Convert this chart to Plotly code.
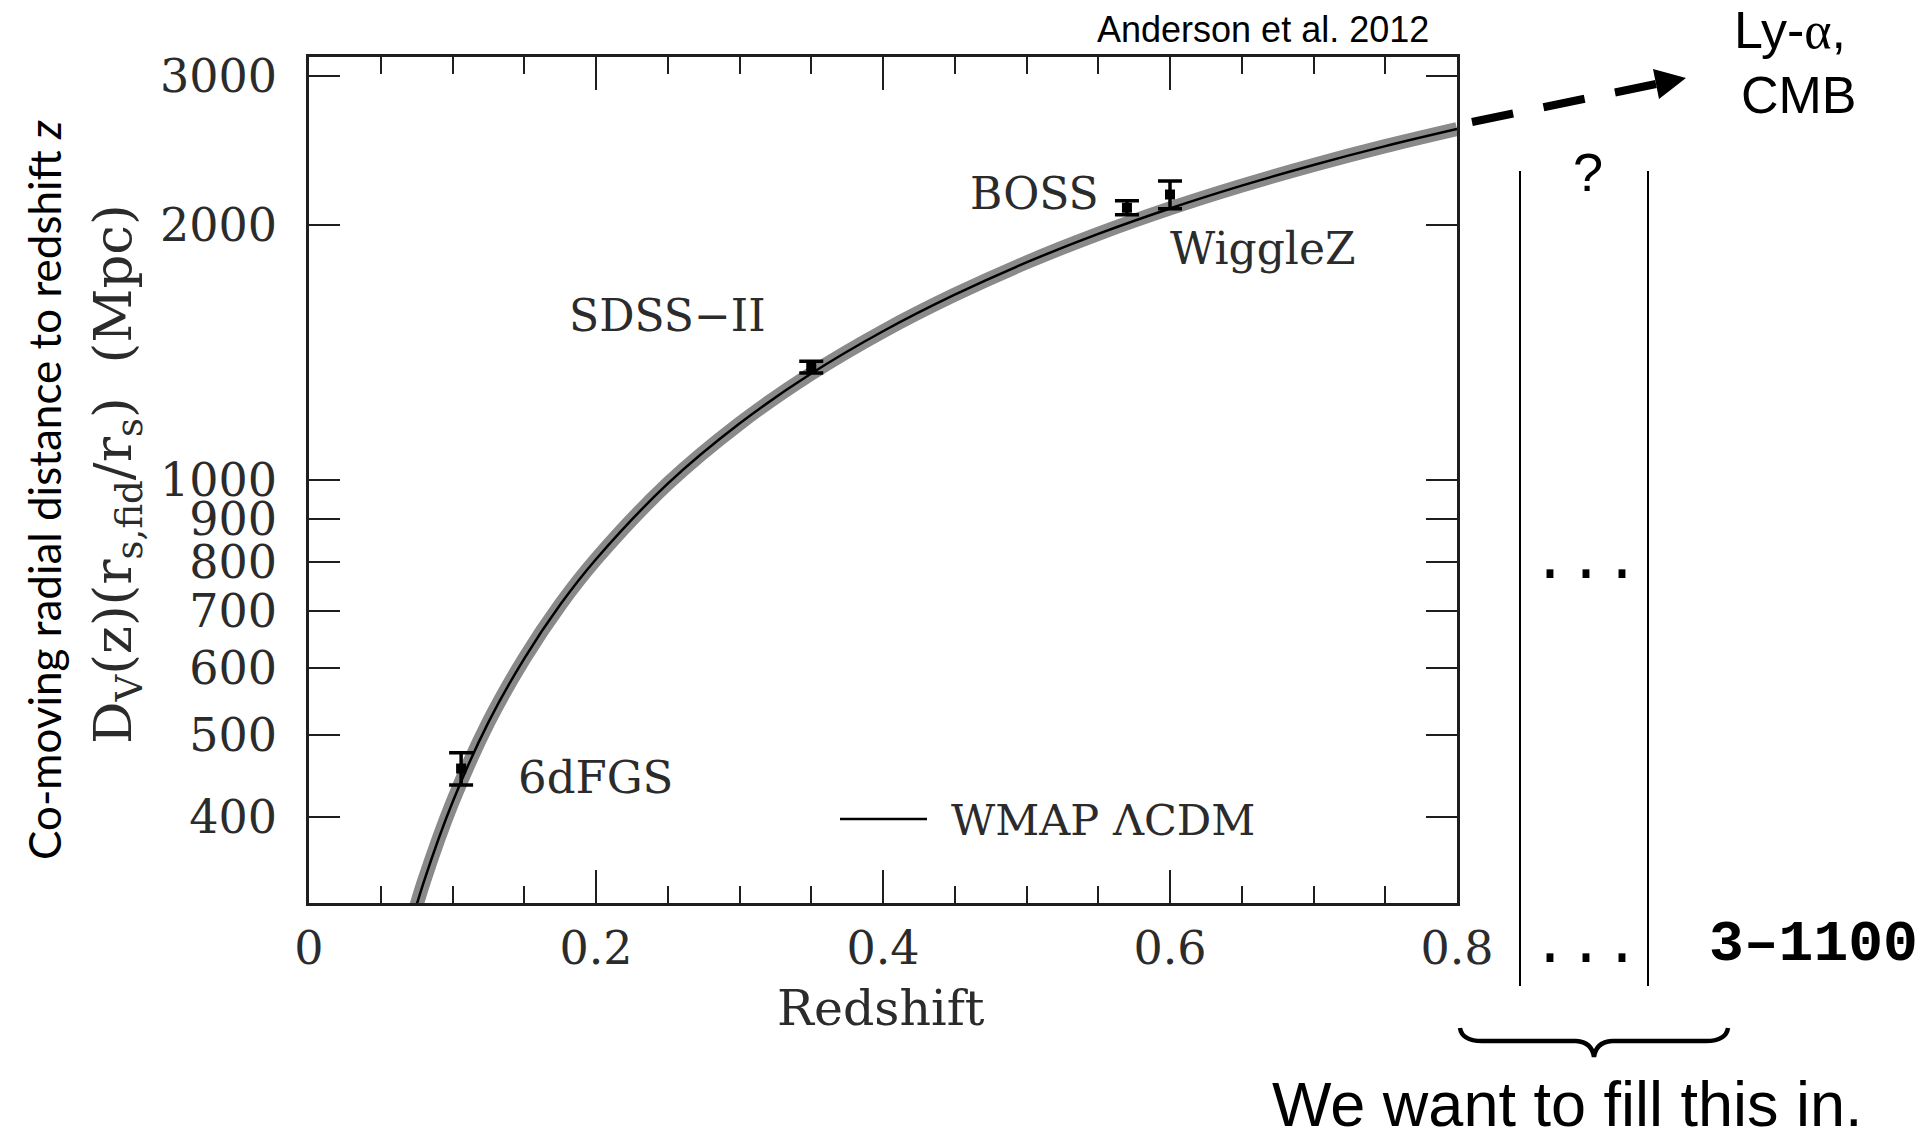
import plotly.graph_objects as go

W, H = 1920, 1137

# ---------------- data ----------------
curve_z = [0.070, 0.080, 0.100, 0.125, 0.150, 0.175, 0.200, 0.250, 0.300, 0.350,
           0.400, 0.450, 0.500, 0.550, 0.600, 0.650, 0.700, 0.750, 0.800]
curve_dv = [294, 335, 416, 517, 615, 712, 806, 990, 1166, 1336,
            1499, 1656, 1808, 1954, 2094, 2228, 2357, 2481, 2599]

survey_names = ["6dFGS", "SDSS\u2212II", "BOSS", "WiggleZ"]
survey_z = [0.106, 0.35, 0.57, 0.60]
survey_dv = [456, 1360, 2098, 2175]
survey_err = [20, 22, 40, 82]

x_tickvals = [0, 0.2, 0.4, 0.6, 0.8]
x_ticktext = ["0", "0.2", "0.4", "0.6", "0.8"]
x_minor = [0.05, 0.1, 0.15, 0.25, 0.3, 0.35, 0.45, 0.5, 0.55, 0.65, 0.7, 0.75]
y_tickvals = [400, 500, 600, 700, 800, 900, 1000, 2000, 3000]
y_ticktext = ["400", "500", "600", "700", "800", "900", "1000", "2000", "3000"]


# ---------------- helpers: pixel -> paper ----------------
def fx(px):
    return px / W


def fy(py):
    return 1 - py / H


SERIF = "DejaVu Serif"
TXT = "#2b2b2b"
AX = "#1e1e1e"
FS = 46

fig = go.Figure()

# WMAP LCDM prediction: gray band + black centre line
fig.add_trace(go.Scatter(x=curve_z, y=curve_dv, mode="lines",
                         line=dict(color="#8a8a8a", width=14, shape="spline", smoothing=1),
                         hoverinfo="skip", showlegend=False))
fig.add_trace(go.Scatter(x=curve_z, y=curve_dv, mode="lines",
                         line=dict(color="#000000", width=2.5, shape="spline", smoothing=1),
                         name="WMAP \u039bCDM", showlegend=False))

# BAO measurements
fig.add_trace(go.Scatter(x=survey_z, y=survey_dv, mode="markers",
                         marker=dict(symbol="square", size=10, color="black"),
                         error_y=dict(type="data", array=survey_err, color="black",
                                      thickness=3.5, width=12),
                         text=survey_names, showlegend=False))

axis_common = dict(showgrid=False, zeroline=False, showline=True, linecolor=AX,
                   linewidth=2.5, mirror="ticks", ticks="inside", tickcolor=AX,
                   tickwidth=2, tickfont=dict(family=SERIF, size=FS, color=TXT))

fig.update_layout(
    width=W, height=H,
    margin=dict(l=0, r=0, t=0, b=0, autoexpand=False),
    paper_bgcolor="white", plot_bgcolor="white",
    xaxis=dict(domain=[fx(309), fx(1457)], range=[0, 0.8], automargin=False,
               tickmode="array", tickvals=x_tickvals, ticktext=x_ticktext,
               ticklen=33, ticklabelstandoff=3,
               minor=dict(tickvals=x_minor, ticks="inside", ticklen=17,
                          tickwidth=2, tickcolor=AX, showgrid=False),
               **axis_common),
    yaxis=dict(domain=[fy(903), fy(57)], type="log", range=[2.5, 3.5], automargin=False,
               tickmode="array", tickvals=y_tickvals, ticktext=y_ticktext,
               ticklen=31, ticklabelstandoff=20,
               **axis_common),
    showlegend=False,
)

ann = []


def text(s, x, y, size, family, color="black", angle=0, xanchor="center"):
    ann.append(dict(text=s, x=fx(x), y=fy(y), xref="paper", yref="paper",
                    showarrow=False, xanchor=xanchor, yanchor="middle",
                    textangle=angle,
                    font=dict(family=family, size=size, color=color)))


# in-plot labels
text("SDSS\u2212II", 667, 315, 44, SERIF, TXT)
text("6dFGS", 595, 777, 45, SERIF, TXT)
text("BOSS", 1034, 193, 44, SERIF, TXT)
text("WiggleZ", 1263, 249, 44, SERIF, TXT)
text("WMAP \u039bCDM", 1103, 820, 43, SERIF, TXT)

# axis titles
text("Redshift", 881, 1008, 49, SERIF, TXT)
text("D<sub>V</sub>(z)(r<sub>s,fid</sub>/r<sub>s</sub>)  (Mpc)", 116, 474, 53, SERIF, TXT, angle=-90)
text("Co-moving radial distance to redshift <i>z</i>", 44, 490, 44, "Lato", "black", angle=-90)

# slide annotations
text("Anderson et al. 2012", 1263, 29, 36, "Liberation Sans")
text("Ly-<span style=\"font-family:'Liberation Serif'\">\u03b1</span>,", 1790, 30, 52, "Liberation Sans")
text("CMB", 1799, 95, 52, "Liberation Sans")
text("?", 1588, 172, 54, "Liberation Sans")
text("...", 1586, 562, 60, "Liberation Mono")
text("...", 1586, 946, 60, "Liberation Mono")
text("<b>3\u20131100</b>", 1813, 944, 58, "Liberation Mono")
text("We want to fill this in.", 1567, 1104, 63, "Liberation Sans")

fig.update_layout(annotations=ann)

shapes = []
# legend sample line
shapes.append(dict(type="line", xref="paper", yref="paper",
                   x0=fx(840), y0=fy(819), x1=fx(927), y1=fy(819),
                   line=dict(color="black", width=2.5)))
# dashed arrow
shapes.append(dict(type="line", xref="paper", yref="paper",
                   x0=fx(1472), y0=fy(122), x1=fx(1656), y1=fy(84),
                   line=dict(color="black", width=8, dash="42px,31px")))
tip = (1686, 78)
b1 = (1659, 99)
b2 = (1653, 69)
shapes.append(dict(type="path", xref="paper", yref="paper",
                   path=f"M {fx(tip[0])},{fy(tip[1])} L {fx(b1[0])},{fy(b1[1])} "
                        f"L {fx(b2[0])},{fy(b2[1])} Z",
                   fillcolor="black", line=dict(width=0)))
# two vertical lines
for xv in (1520, 1648):
    shapes.append(dict(type="line", xref="paper", yref="paper",
                       x0=fx(xv), y0=fy(171), x1=fx(xv), y1=fy(986),
                       line=dict(color="black", width=2)))


# curly brace
def P(x, y):
    return f"{fx(x)},{fy(y)}"


brace = (f"M {P(1460, 1028)} Q {P(1462, 1041)} {P(1482, 1041)} "
         f"L {P(1576, 1041)} Q {P(1592, 1042)} {P(1594, 1057)} "
         f"Q {P(1596, 1042)} {P(1612, 1041)} L {P(1706, 1041)} "
         f"Q {P(1726, 1041)} {P(1728, 1028)}")
shapes.append(dict(type="path", xref="paper", yref="paper", path=brace,
                   line=dict(color="black", width=4.5)))

fig.update_layout(shapes=shapes)

fig.write_html("out.html")
